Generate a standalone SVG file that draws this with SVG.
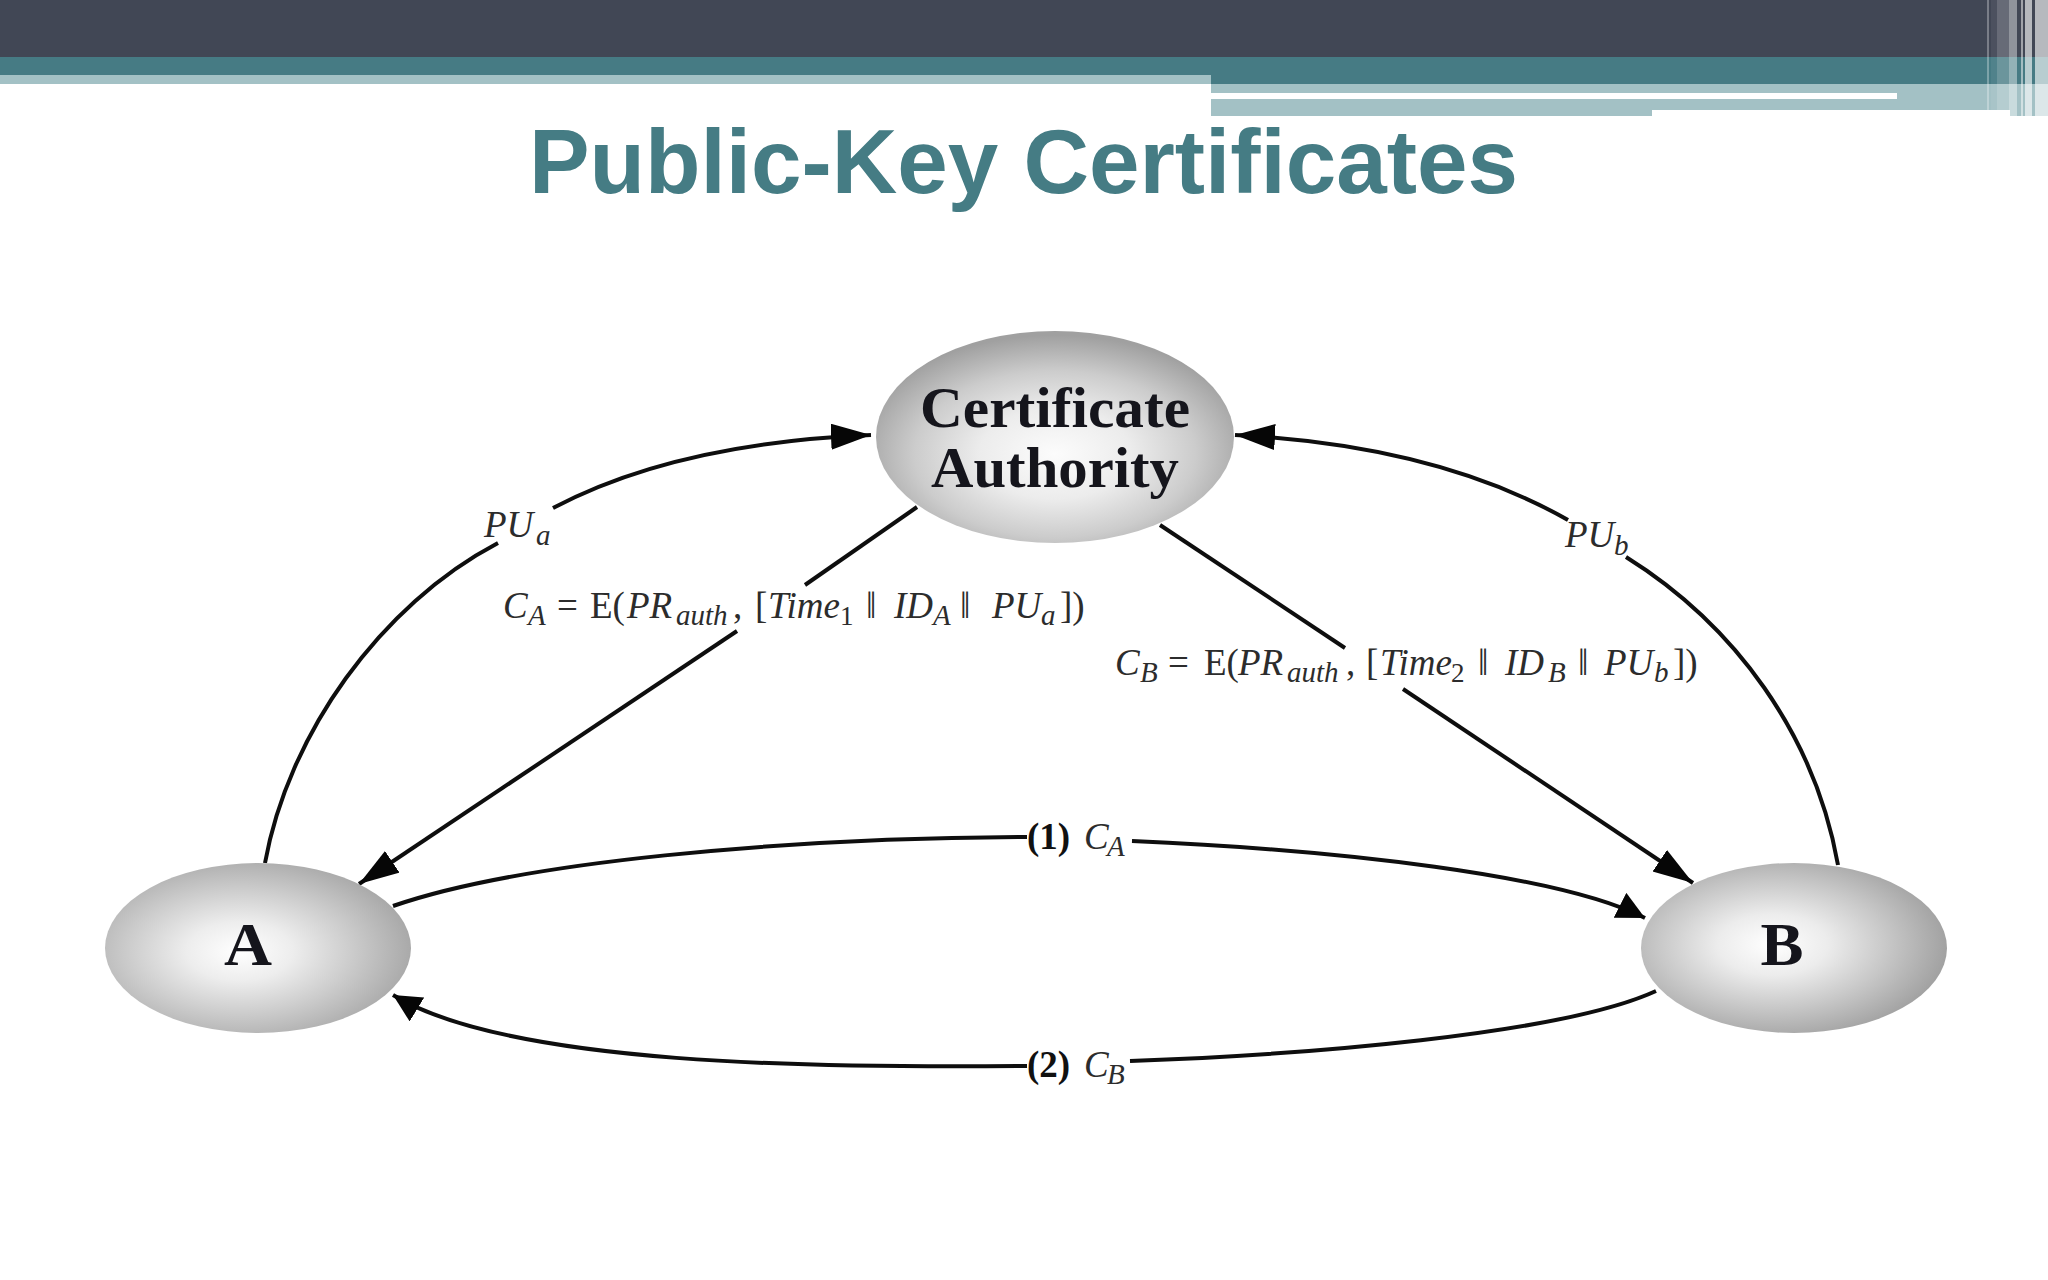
<svg xmlns="http://www.w3.org/2000/svg" width="2048" height="1280" viewBox="0 0 2048 1280">
<defs>
<radialGradient id="ga" cx="0.44" cy="0.52" r="0.58"><stop offset="0" stop-color="#ffffff"/><stop offset="0.3" stop-color="#ededed"/><stop offset="0.62" stop-color="#cdcdcd"/><stop offset="1" stop-color="#a6a6a6"/></radialGradient>
<radialGradient id="gb" cx="0.43" cy="0.48" r="0.6"><stop offset="0" stop-color="#ffffff"/><stop offset="0.3" stop-color="#ececec"/><stop offset="0.62" stop-color="#c8c8c8"/><stop offset="1" stop-color="#9c9c9c"/></radialGradient>
<radialGradient id="gc" cx="0.5" cy="0.58" r="0.56"><stop offset="0" stop-color="#fcfcfc"/><stop offset="0.38" stop-color="#ececec"/><stop offset="0.7" stop-color="#cccccc"/><stop offset="1" stop-color="#a0a0a0"/></radialGradient>
<marker id="ah" markerUnits="userSpaceOnUse" markerWidth="42" markerHeight="28" refX="40" refY="13" orient="auto"><path d="M0 0L40 13L0 26Z" fill="#060606"/></marker>
<marker id="as" markerUnits="userSpaceOnUse" markerWidth="30" markerHeight="30" refX="28" refY="14" orient="auto"><path d="M0 0L28 14L0 28Z" fill="#060606"/></marker>
</defs>
<style>
.ln{fill:none;stroke:#0e0e0e;stroke-width:4}
.ar{marker-end:url(#ah)}
.sr{marker-end:url(#as)}
.nd{font-family:"Liberation Serif",serif;font-weight:bold;fill:#15151c;text-anchor:middle}
.lb{font-family:"Liberation Serif",serif;font-size:37px;fill:#2c2c2c}
.i{font-style:italic}
.s{font-size:29px;font-style:italic}
.n{font-size:27px}
.b{font-weight:bold;fill:#111}
</style>
<rect width="2048" height="1280" fill="#ffffff"/>
<g id="header">
<rect x="0" y="0" width="2048" height="57" fill="#414755"/>
<rect x="0" y="57" width="2048" height="27" fill="#467b84"/>
<rect x="0" y="75" width="1211" height="9" fill="#a3c1c5"/>
<rect x="1211" y="84" width="837" height="32" fill="#a3c1c5"/>
<rect x="1211" y="93" width="686" height="6" fill="#ffffff"/>
<rect x="1652" y="110" width="358" height="6" fill="#ffffff"/>
<g fill="#ffffff">
<rect x="1987" width="2" height="110" opacity="0.3"/>
<rect x="1991" width="6" height="110" opacity="0.06"/>
<rect x="1997" width="12" height="110" opacity="0.2"/>
<rect x="2009" width="8" height="116" opacity="0.42"/>
<rect x="2021" width="2" height="116" opacity="0.5"/>
<rect x="2025" width="7" height="116" opacity="0.62"/>
<rect x="2035" width="13" height="116" opacity="0.62"/>
</g>
</g>
<text id="title" x="1023.5" y="193" text-anchor="middle" font-family="Liberation Sans, sans-serif" font-weight="bold" font-size="90.8" fill="#457c84">Public-Key Certificates</text>
<g id="connectors">
<path class="ln" d="M265 863C288 735 380 605 498 543"/>
<path class="ln ar" d="M553 508C640 462 750 440 871 435"/>
<path class="ln" d="M1838 865C1815 735 1735 625 1626 557"/>
<path class="ln ar" d="M1568 520C1480 470 1370 442 1235 435"/>
<path class="ln" d="M917 507L805 585"/>
<path class="ln ar" d="M737 631L359 884"/>
<path class="ln" d="M1160 525L1345 648"/>
<path class="ln ar" d="M1403 689L1693 883"/>
<path class="ln" d="M393 906C520 862 780 838 1027 837"/>
<path class="ln sr" d="M1132 841C1340 850 1560 875 1645 918"/>
<path class="ln" d="M1656 991C1560 1035 1300 1055 1130 1061"/>
<path class="ln sr" d="M1027 1066C820 1068 510 1066 393 995"/>
</g>
<g id="node-ca">
<ellipse cx="1055" cy="437" rx="179" ry="106" fill="url(#gc)"/>
<text class="nd" x="1055" y="427" font-size="56" textLength="270" lengthAdjust="spacingAndGlyphs">Certificate</text>
<text class="nd" x="1055" y="487" font-size="56" textLength="248" lengthAdjust="spacingAndGlyphs">Authority</text>
</g>
<g id="node-a">
<ellipse cx="258" cy="948" rx="153" ry="85" fill="url(#ga)"/>
<text class="nd" x="248" y="965" font-size="62" textLength="48" lengthAdjust="spacingAndGlyphs">A</text>
</g>
<g id="node-b">
<ellipse cx="1794" cy="948" rx="153" ry="85" fill="url(#gb)"/>
<text class="nd" x="1782" y="965" font-size="62" textLength="43" lengthAdjust="spacingAndGlyphs">B</text>
</g>
<g id="labels">
<text class="lb" y="618"><tspan class="i" x="503">C</tspan><tspan class="s" x="528" dy="7">A</tspan><tspan x="557" dy="-7">=</tspan><tspan x="590">E(</tspan><tspan class="i" x="627">PR</tspan><tspan class="s" x="676" dy="7">auth</tspan><tspan x="733" dy="-7">,</tspan><tspan x="755">[</tspan><tspan class="i" x="768">Time</tspan><tspan class="n" x="840" dy="7">1</tspan><tspan x="866" dy="-7">‖</tspan><tspan class="i" x="894">ID</tspan><tspan class="s" x="933" dy="7">A</tspan><tspan x="960" dy="-7">‖</tspan><tspan class="i" x="992">PU</tspan><tspan class="s" x="1041" dy="7">a</tspan><tspan x="1060" dy="-7">])</tspan></text>
<text class="lb" y="675"><tspan class="i" x="1115">C</tspan><tspan class="s" x="1140" dy="7">B</tspan><tspan x="1168" dy="-7">=</tspan><tspan x="1204">E(</tspan><tspan class="i" x="1238">PR</tspan><tspan class="s" x="1287" dy="7">auth</tspan><tspan x="1346" dy="-7">,</tspan><tspan x="1366">[</tspan><tspan class="i" x="1380">Time</tspan><tspan class="n" x="1451" dy="7">2</tspan><tspan x="1478" dy="-7">‖</tspan><tspan class="i" x="1505">ID</tspan><tspan class="s" x="1548" dy="7">B</tspan><tspan x="1578" dy="-7">‖</tspan><tspan class="i" x="1604">PU</tspan><tspan class="s" x="1654" dy="7">b</tspan><tspan x="1673" dy="-7">])</tspan></text>
<text class="lb" y="537"><tspan class="i" x="484">PU</tspan><tspan class="s" x="536" dy="8">a</tspan></text>
<text class="lb" y="547"><tspan class="i" x="1565">PU</tspan><tspan class="s" x="1614" dy="8">b</tspan></text>
<text class="lb" y="849"><tspan class="b" x="1027">(1)</tspan><tspan class="i" x="1084">C</tspan><tspan class="s" x="1107" dy="7">A</tspan></text>
<text class="lb" y="1077"><tspan class="b" x="1027">(2)</tspan><tspan class="i" x="1084">C</tspan><tspan class="s" x="1107" dy="7">B</tspan></text>
</g>
</svg>
